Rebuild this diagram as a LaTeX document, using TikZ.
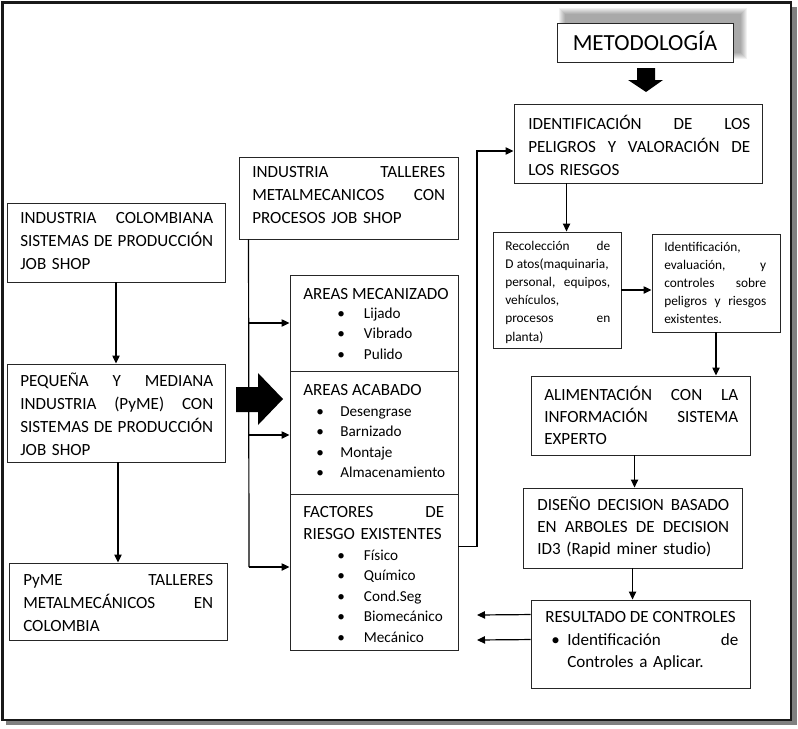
\documentclass[tikz,border=0pt]{standalone}
\usepackage{fontspec}
\setmainfont{Carlito}
\usetikzlibrary{arrows.meta,fit,calc}
\begin{document}
\begin{tikzpicture}[x=0.75pt,y=-0.75pt,
  box/.style={draw=black!85,line width=0.7pt,inner sep=0pt},
  txt/.style={anchor=base west,inner sep=0pt,align=left,font=\fontsize{12.8}{17.25}\selectfont},
  txtt/.style={anchor=base west,inner sep=0pt,align=left,font=\fontsize{12.8}{16.5}\selectfont},
  txtb/.style={anchor=base west,inner sep=0pt,align=left,text width=110pt,font=\fontsize{11.4}{15.3}\selectfont},
  txts/.style={anchor=base west,inner sep=0pt,align=left,font=\fontsize{10}{13.65}\selectfont},
  arr/.style={draw=black,line width=0.9pt,-{Triangle[length=6pt,width=5.5pt]}},
  ln/.style={draw=black,line width=0.9pt}]
\useasboundingbox (0,0) rectangle (798,728);
% outer frame with shadow
\fill[black!50] (6,7) rectangle (797,725);
\filldraw[fill=white,draw=black!90,line width=1.6pt] (2.5,2.5) rectangle (791,720);
% METODOLOGIA shadow
\foreach \i in {6,5,4,3,2,1,0}{
  \fill[black,opacity=0.055] (565-\i,14-\i) rectangle (741+\i,53+\i);
}
% boxes
\node[box,fill=white,fit={(557,23) (733,62)}] (met) {};
\node[box,fit={(514,104) (762,183)}] (ident) {};
\node[box,fit={(239,157) (458,239)}] (tall) {};
\node[box,fit={(7,203) (225,282)}] (colomb) {};
\node[box,fit={(290,275) (458,371)}] (mec) {};
\node[box,fit={(290,371) (458,494)}] (acab) {};
\node[box,fit={(290,494) (458,650)}] (fact) {};
\node[box,fit={(7,364) (225,462)}] (peq) {};
\node[box,fit={(9,563) (227,640)}] (pyme) {};
\node[box,fit={(493,232) (621,348)}] (recol) {};
\node[box,fit={(652,234) (780,332)}] (idsm) {};
\node[box,fit={(531,376) (750,455)}] (alim) {};
\node[box,fit={(523,488) (742,568)}] (dis) {};
\node[box,fit={(531,600) (750,688)}] (res) {};
% texts
\node[anchor=base,inner sep=0pt,font=\fontsize{17.3}{20}\selectfont] (tmet) at (645,50.4) {METODOLOGÍA};
\node[txt,text width=166.5pt] (tident) at (528,129.5) {IDENTIFICACIÓN\hfill DE\hfill LOS\\PELIGROS\hfill Y\hfill VALORACIÓN\hfill DE\\LOS RIESGOS};
\node[txt,text width=144.75pt] (ttall) at (252,177.5) {INDUSTRIA\hfill TALLERES\\METALMECANICOS\hfill CON\\PROCESOS JOB SHOP};
\node[txt,text width=144.75pt] (tcol) at (20,223.5) {INDUSTRIA\hfill COLOMBIANA\\SISTEMAS\hfill DE\hfill PRODUCCIÓN\\JOB SHOP};
\node[txt,text width=144.75pt] (tpeq) at (20,386.5) {PEQUEÑA\hfill Y\hfill MEDIANA\\INDUSTRIA\hfill (PyME)\hfill CON\\SISTEMAS\hfill DE\hfill PRODUCCIÓN\\JOB SHOP};
\node[txt,text width=142.5pt] (tpyme) at (23,585.5) {PyME\hfill TALLERES\\METALMECÁNICOS\hfill EN\\COLOMBIA};
\node[txt] (tmec) at (303,299.5) {AREAS MECANIZADO};
\node[txtb] (lmec) at (337,318.5) {\makebox[20pt][l]{•}Lijado\\\makebox[20pt][l]{•}Vibrado\\\makebox[20pt][l]{•}Pulido};
\node[txt] (tacab) at (303,395.5) {AREAS ACABADO};
\node[txtb] (lacab) at (316,416.5) {\makebox[18pt][l]{•}Desengrase\\\makebox[18pt][l]{•}Barnizado\\\makebox[18pt][l]{•}Montaje\\\makebox[18pt][l]{•}Almacenamiento};
\node[txtt,text width=105.75pt] (tfact) at (303,517.5) {FACTORES\hfill DE\\RIESGO EXISTENTES};
\node[txtb] (lfact) at (337,560.5) {\makebox[20pt][l]{•}Físico\\\makebox[20pt][l]{•}Químico\\\makebox[20pt][l]{•}Cond.Seg\\\makebox[20pt][l]{•}Biomecánico\\\makebox[20pt][l]{•}Mecánico};
\node[txts,text width=78.75pt] (trecol) at (505,250) {Recolección\hfill de\\D\hspace{2.5pt}atos(maquinaria,\\personal,\hfill equipos,\\vehículos,\\procesos\hfill en\\planta)};
\node[txts,text width=76.5pt] (tidsm) at (664,251) {Identificación,\\evaluación,\hfill y\\controles\hfill sobre\\peligros\hfill y\hfill riesgos\\existentes.};
\node[txtt,text width=145.5pt] (talim) at (544,400.5) {ALIMENTACIÓN\hfill CON\hfill LA\\INFORMACIÓN\hfill SISTEMA\\EXPERTO};
\node[txtt,text width=144pt] (tdis) at (537,510.5) {DISEÑO\hfill DECISION\hfill BASADO\\EN\hfill ARBOLES\hfill DE\hfill DECISION\\ID3 (Rapid miner studio)};
\node[txt] (tres) at (545,622.5) {RESULTADO DE CONTROLES};
\node[txtt,text width=140.25pt] (lres) at (551,645.5) {\makebox[12pt][l]{•}Identificación\hfill de\\\hspace*{12pt}Controles a Aplicar.};
% connectors
\draw[arr] (colomb.south) -- (colomb.south |- peq.north);
\draw[arr] ($(peq.south)+(2,0)$) coordinate (p1) -- (p1 |- pyme.north);
\coordinate (t0) at ($(tall.south west)+(10,0)$);
\coordinate (tb) at (249,567);
\draw[ln] (t0) -- (tb);
\draw[arr] (t0 |- mec.west) -- (mec.west);
\draw[arr] (249,435) coordinate (ta) -- (ta -| acab.west);
\draw[arr] (tb) -- (tb -| fact.west);
\coordinate (fe) at ($(fact.north east)+(0,53)$);
\coordinate (c1) at (477,151);
\draw[arr] (fe) -| (c1) -- (c1 -| ident.west);
\coordinate (a1) at ($(ident.south west)+(53,0)$);
\draw[arr] (a1) -- (a1 |- recol.north);
\draw[arr] (recol.east) -- (recol.east -| idsm.west);
\draw[arr] (idsm.south) -- (idsm.south |- alim.north);
\coordinate (a2) at ($(alim.south west)+(104,0)$);
\draw[arr] (a2) -- (a2 |- dis.north);
\coordinate (a3) at ($(dis.south west)+(110,0)$);
\draw[arr] (a3) -- (a3 |- res.north);
\coordinate (r1) at ($(res.north west)+(0,15)$);
\coordinate (r2) at ($(res.north west)+(0,40)$);
\coordinate (e1) at (477,615);
\coordinate (e2) at (477,640);
\draw[arr] (r1) -- (e1);
\draw[arr] (r2) -- (e2);
% big arrows
\fill[black] (236,387) -- (258,387) -- (258,373) -- (283,399) -- (258,425) -- (258,412) -- (236,412) -- cycle;
\fill[black] (637,68) -- (655,68) -- (655,80) -- (663,80) -- (646,92) -- (628,80) -- (637,80) -- cycle;
\end{tikzpicture}
\end{document}
